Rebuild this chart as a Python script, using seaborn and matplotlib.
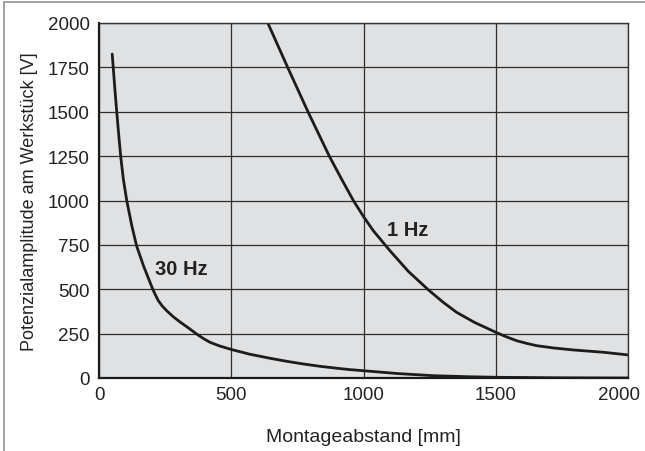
import matplotlib
matplotlib.use("Agg")
import matplotlib.pyplot as plt
import matplotlib.transforms as mtransforms
from matplotlib.lines import Line2D
import seaborn as sns

# ---- data ----
x_30hz = [50, 60, 67, 76, 82, 92, 105, 124, 142, 168, 186, 203, 214, 224, 240, 256, 280, 306,
          340, 369, 395, 420, 455, 502, 570, 647, 710, 772, 835, 899, 950, 1000, 1130, 1264,
          1400, 1503, 1750, 2000]
y_30hz = [1825, 1628, 1500, 1346, 1249, 1121, 999, 858, 745, 633, 565, 501, 466, 436, 404, 379, 346, 316,
          280, 248, 222, 201, 181, 160, 134, 111, 94, 79, 66, 55, 47, 41, 25, 13,
          7, 4, 1, 0]

x_1hz = [640, 716, 791, 871, 918, 962, 1002, 1037, 1100, 1170, 1245, 1300, 1352, 1420, 1501,
         1540, 1579, 1620, 1655, 1720, 1793, 1907, 2000]
y_1hz = [1994, 1741, 1497, 1249, 1118, 999, 905, 830, 717, 600, 497, 428, 370, 313, 257,
         232, 210, 194, 182, 169, 158, 145, 130]

x_ticks = [0, 500, 1000, 1500, 2000]
y_ticks = [0, 250, 500, 750, 1000, 1250, 1500, 1750, 2000]
label_30hz = "30 Hz"
label_1hz = "1 Hz"
x_label = "Montageabstand [mm]"
y_label = "Potenzialamplitude am Werkstück [V]"

sns.set_style("white")
plt.rcParams['font.family'] = ['Liberation Sans', 'DejaVu Sans']

fig = plt.figure(figsize=(6.45, 4.52), dpi=100)
ax = fig.add_axes([99/645, 1-379/452, (628-99)/645, (379-24)/452])
ax.set_facecolor('#e0e1e3')

line_color = '#1c1c1c'
sns.lineplot(x=x_30hz, y=y_30hz, ax=ax, sort=False, estimator=None, color=line_color, lw=2.0)
sns.lineplot(x=x_1hz, y=y_1hz, ax=ax, sort=False, estimator=None, color=line_color, lw=2.0)

ax.set_xlim(0, 2000)
ax.set_ylim(0, 2000)
ax.set_xticks(x_ticks)
ax.set_yticks(y_ticks)
ax.grid(True, color='#2e2e2e', lw=0.9)
ax.set_axisbelow(True)
ax.tick_params(axis='both', length=0, labelsize=13.5, labelcolor='#222222')
ax.tick_params(axis='x', pad=5.5)
ax.tick_params(axis='y', pad=6.5)

for side in ['top', 'right']:
    ax.spines[side].set_color('#333333')
    ax.spines[side].set_linewidth(1.0)
for side in ['left', 'bottom']:
    ax.spines[side].set_color('#1a1a1a')
    ax.spines[side].set_linewidth(1.6)

# shift last x tick label left as in reference
labels = ax.get_xticklabels()
off = mtransforms.ScaledTranslation(-9/100, 0, fig.dpi_scale_trans)
labels[-1].set_transform(labels[-1].get_transform() + off)

ax.set_xlabel(x_label, fontsize=14, color='#222222', labelpad=18)
ax.set_ylabel(y_label, fontsize=13, color='#222222', labelpad=7)

ax.text(212, 617, label_30hz, fontsize=14.5, fontweight='bold', color='#222222', va='center', ha='left')
ax.text(1089, 839, label_1hz, fontsize=14.5, fontweight='bold', color='#222222', va='center', ha='left')

# outer frame (left and top visible)
fig.add_artist(Line2D([3.5/645, 3.5/645], [0, 1-2.5/452], transform=fig.transFigure, color='#9a9a9a', lw=1.3))
fig.add_artist(Line2D([3.5/645, 1], [1-2.5/452, 1-2.5/452], transform=fig.transFigure, color='#9a9a9a', lw=1.3))

fig.savefig("out.png", dpi=100)
